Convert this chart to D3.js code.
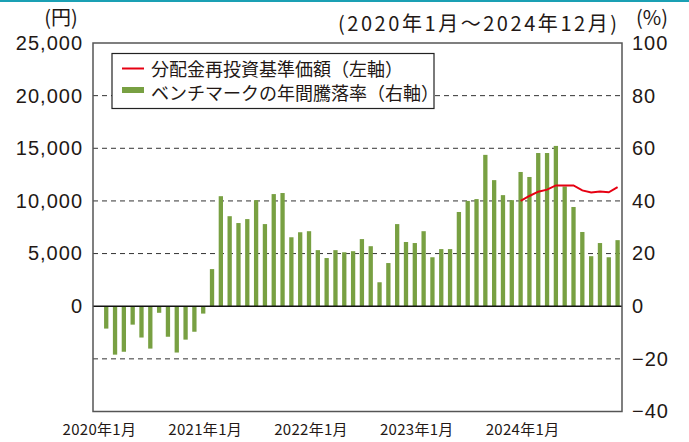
<!DOCTYPE html>
<html lang="ja">
<head>
<meta charset="UTF-8" />
<title>分配金再投資基準価額とベンチマークの年間騰落率</title>
<script src="https://d3js.org/d3.v7.min.js"></script>
<style>
  body {
    margin: 0;
    background: #fff;
    font-family: "Noto Sans CJK JP", "Noto Sans", sans-serif;
  }
  svg { display: block; }
  .lbl { fill: #231815; }
  .grid { stroke: #333; stroke-width: 1; stroke-dasharray: 5 4; }
</style>
</head>
<body>
<svg width="689" height="442"></svg>
<script>
  const width = 689, height = 442;

  // months 2020-01 .. 2024-12
  const months = d3.range(60).map(i => `${2020 + Math.floor(i / 12)}-${i % 12 + 1}`);

  // ベンチマークの年間騰落率 (%), 2020年1月 has no bar
  const benchRate = [
    null, -8.5, -18.4, -17.3, -7.0, -11.9, -16.1, -2.5, -11.6, -17.6, -12.7, -9.7,
    -2.8, 14.1, 41.8, 34.2, 31.6, 33.1, 40.3, 31.2, 42.6, 43.0, 26.2, 28.1,
    28.5, 21.3, 18.3, 21.3, 20.5, 20.9, 25.5, 22.8, 9.1, 16.4, 31.2, 24.4,
    24.0, 28.5, 18.6, 21.7, 21.7, 35.8, 40.0, 40.7, 57.5, 47.9, 42.2, 40.3,
    51.0, 49.1, 58.2, 58.2, 60.9, 45.5, 37.7, 28.2, 19.0, 24.0, 18.6, 25.1
  ];

  // 分配金再投資基準価額 (円), 2024年1月〜12月
  const navMonths = months.slice(48);
  const navValues = [10000, 10470, 10880, 11070, 11470, 11470, 11470, 11000, 10810, 10900, 10820, 11310];

  const leftTicks = [0, 5000, 10000, 15000, 20000, 25000];
  const rightTicks = [-40, -20, 0, 20, 40, 60, 80, 100];
  const gridTicks = [-20, 20, 40, 60, 80];
  const xLabelMonths = ["2020-1", "2021-1", "2022-1", "2023-1", "2024-1"];
  const xLabelText = ["2020年1月", "2021年1月", "2022年1月", "2023年1月", "2024年1月"];

  const plotL = 93, plotR = 622, plotT = 43, plotB = 411.5;

  const x = d3.scaleBand().domain(months).range([plotL, plotR]).padding(0);
  const yR = d3.scaleLinear().domain([-40, 100]).range([plotB, plotT]);
  const yL = d3.scaleLinear().domain([-10000, 25000]).range([plotB, plotT]);

  const svg = d3.select("svg");

  // teal rule at the very top
  svg.append("rect").attr("x", 0).attr("y", 0).attr("width", width).attr("height", 2).attr("fill", "#1aa0b4");

  // dashed grid
  svg.append("g").selectAll("line").data(gridTicks).join("line")
    .attr("class", "grid")
    .attr("x1", plotL).attr("x2", plotR)
    .attr("y1", d => yR(d)).attr("y2", d => yR(d));

  // bars
  const bw = 4.3;
  svg.append("g").selectAll("rect")
    .data(months.map((m, i) => ({ m, v: benchRate[i] })).filter(d => d.v !== null))
    .join("rect")
    .attr("x", d => x(d.m) + (x.bandwidth() - bw) / 2)
    .attr("width", bw)
    .attr("y", d => yR(Math.max(0, d.v)))
    .attr("height", d => Math.abs(yR(d.v) - yR(0)))
    .attr("fill", "#78a042");

  // zero line
  svg.append("line")
    .attr("x1", plotL).attr("x2", plotR)
    .attr("y1", yR(0)).attr("y2", yR(0))
    .attr("stroke", "#111").attr("stroke-width", 1.5);

  // frame
  svg.append("rect")
    .attr("x", plotL).attr("y", plotT)
    .attr("width", plotR - plotL).attr("height", plotB - plotT)
    .attr("fill", "none").attr("stroke", "#555").attr("stroke-width", 1.5);

  // nav line
  const line = d3.line()
    .x((d, i) => x(navMonths[i]) + x.bandwidth() / 2)
    .y(d => yL(d));
  svg.append("path")
    .datum(navValues)
    .attr("d", line)
    .attr("fill", "none")
    .attr("stroke", "#e60012")
    .attr("stroke-width", 2);

  // left axis
  const axL = svg.append("g")
    .attr("transform", `translate(${plotL},0)`)
    .call(d3.axisLeft(yL).tickValues(leftTicks).tickSize(0).tickPadding(10).tickFormat(d3.format(",")));
  axL.select(".domain").remove();
  axL.selectAll("text").attr("class", "lbl")
    .style("font-size", "20px").style("letter-spacing", "1px").style("font-family", "inherit");

  // right axis
  const axR = svg.append("g")
    .attr("transform", `translate(${plotR},0)`)
    .call(d3.axisRight(yR).tickValues(rightTicks).tickSize(0).tickPadding(10)
      .tickFormat(d => d < 0 ? "−" + Math.abs(d) : d));
  axR.select(".domain").remove();
  axR.selectAll("text").attr("class", "lbl")
    .style("font-size", "20px").style("letter-spacing", "1px").style("font-family", "inherit");

  // x labels
  svg.append("g").selectAll("text").data(xLabelMonths).join("text")
    .attr("class", "lbl")
    .attr("x", d => x(d) + x.bandwidth() / 2 + 2)
    .attr("y", 435)
    .attr("text-anchor", "middle")
    .style("font-size", "15px")
    .style("letter-spacing", "0.3px")
    .text((d, i) => xLabelText[i]);

  // unit labels
  svg.append("text").attr("class", "lbl").attr("x", 61).attr("y", 25)
    .attr("text-anchor", "middle").style("font-size", "20px").text("(円)");
  svg.append("text").attr("class", "lbl").attr("x", 652).attr("y", 25)
    .attr("text-anchor", "middle").style("font-size", "20px").text("(%)");
  svg.append("text").attr("class", "lbl").attr("x", 338).attr("y", 31)
    .attr("textLength", 279).attr("lengthAdjust", "spacing")
    .style("font-size", "20px").text("(2020年1月～2024年12月)");

  // legend
  const lg = svg.append("g");
  lg.append("rect").attr("x", 112).attr("y", 53.5).attr("width", 322).attr("height", 55)
    .attr("fill", "#fff").attr("stroke", "#222").attr("stroke-width", 1.2);
  lg.append("line").attr("x1", 122).attr("x2", 144).attr("y1", 68.5).attr("y2", 68.5)
    .attr("stroke", "#e60012").attr("stroke-width", 2);
  lg.append("rect").attr("x", 122).attr("y", 87).attr("width", 22).attr("height", 6).attr("fill", "#78a042");
  lg.append("text").attr("class", "lbl").attr("x", 151).attr("y", 76)
    .style("font-size", "18px").text("分配金再投資基準価額（左軸）");
  lg.append("text").attr("class", "lbl").attr("x", 151).attr("y", 100)
    .style("font-size", "18px").text("ベンチマークの年間騰落率（右軸）");
</script>
</body>
</html>
